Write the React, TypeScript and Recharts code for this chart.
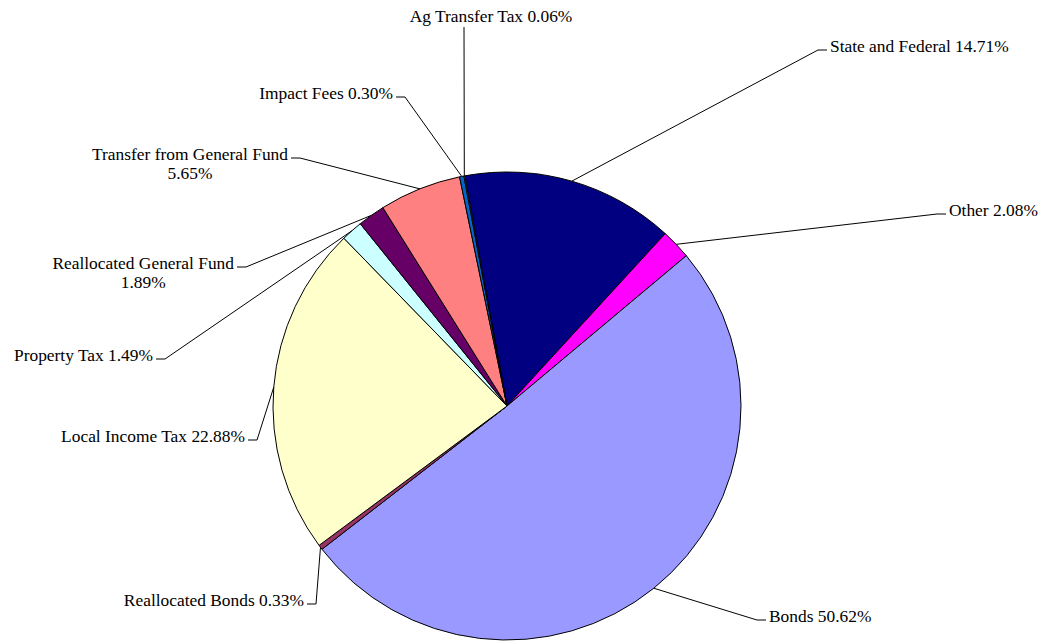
import { Cell, Pie, PieChart } from 'recharts'

// Funding sources, clockwise from the top of the pie
const categories = [
  'State and Federal',
  'Other',
  'Bonds',
  'Reallocated Bonds',
  'Local Income Tax',
  'Property Tax',
  'Reallocated General Fund',
  'Transfer from General Fund',
  'Impact Fees',
  'Ag Transfer Tax',
]
const shares = [14.71, 2.08, 50.62, 0.33, 22.88, 1.49, 1.89, 5.65, 0.3, 0.06]

const sliceColors = [
  '#000080',
  '#ff00ff',
  '#9999ff',
  '#993366',
  '#ffffcc',
  '#ccffff',
  '#660066',
  '#ff8080',
  '#0066cc',
  '#ccccff',
]

// Where each leader line bends: [x, y, side] (side: 1 text right, -1 text left, 0 text above)
const labelElbows: [number, number, number][] = [
  [818, 50, 1],
  [937, 214, 1],
  [757, 620, 1],
  [316, 604, -1],
  [257, 440, -1],
  [165, 359, -1],
  [246, 267, -1],
  [300, 158, -1],
  [405, 97, -1],
  [464, 27, 0],
]
// Labels that put the percentage on a second line
const twoLine = [false, false, false, false, false, false, true, true, false, false]

const data = categories.map((name, i) => ({ name, value: shares[i] }))

const FONT = "'Liberation Serif', 'Times New Roman', serif"
const FONT_SIZE = 17.4
const RADIAN = Math.PI / 180
const textStyle = { fontFamily: FONT, fontSize: FONT_SIZE, fill: '#000' }

let measureCtx: CanvasRenderingContext2D | null = null
function textWidth(s: string) {
  if (!measureCtx) measureCtx = document.createElement('canvas').getContext('2d')
  if (!measureCtx) return s.length * FONT_SIZE * 0.45
  measureCtx.font = `${FONT_SIZE}px 'Liberation Serif'`
  return measureCtx.measureText(s).width
}

function renderLabel(props: any) {
  const { cx, cy, midAngle, outerRadius, index } = props
  const sx = cx + outerRadius * Math.cos(-midAngle * RADIAN)
  const sy = cy + outerRadius * Math.sin(-midAngle * RADIAN)
  const [ex, ey, side] = labelElbows[index]
  const pct = `${shares[index].toFixed(2)}%`
  const name = categories[index]

  if (side === 0) {
    return (
      <g key={`lbl-${index}`}>
        <polyline points={`${sx},${sy} ${ex},${ey}`} fill="none" stroke="#000" strokeWidth={1} />
        <text x={ex + 27} y={ey - 5} textAnchor="middle" style={textStyle}>
          {`${name} ${pct}`}
        </text>
      </g>
    )
  }

  const tailX = ex + side * 9
  const textX = ex + side * 12
  const anchor = side > 0 ? 'start' : 'end'

  let text
  if (twoLine[index]) {
    const w = textWidth(name)
    const mid = side > 0 ? textX + w / 2 : textX - w / 2
    text = (
      <text style={textStyle}>
        <tspan x={textX} y={ey + 2} textAnchor={anchor}>
          {name}
        </tspan>
        <tspan x={mid} y={ey + 21} textAnchor="middle">
          {pct}
        </tspan>
      </text>
    )
  } else {
    text = (
      <text x={textX} y={ey + 2} textAnchor={anchor} style={textStyle}>
        {`${name} ${pct}`}
      </text>
    )
  }

  return (
    <g key={`lbl-${index}`}>
      <polyline
        points={`${sx},${sy} ${ex},${ey} ${tailX},${ey}`}
        fill="none"
        stroke="#000"
        strokeWidth={1}
      />
      {text}
    </g>
  )
}

export default function App() {
  return (
    <div style={{ position: 'absolute', left: 0, top: 0, background: '#fff', fontFamily: FONT }}>
      <PieChart width={1043} height={642} margin={{ top: 0, right: 0, bottom: 0, left: 0 }}>
        <Pie
          data={data}
          dataKey="value"
          nameKey="name"
          cx={507}
          cy={406}
          outerRadius={234}
          startAngle={100.4}
          endAngle={-259.6}
          stroke="#000"
          strokeWidth={1}
          label={renderLabel}
          labelLine={false}
          isAnimationActive={false}
        >
          {data.map((d, i) => (
            <Cell key={d.name} fill={sliceColors[i]} />
          ))}
        </Pie>
      </PieChart>
    </div>
  )
}
